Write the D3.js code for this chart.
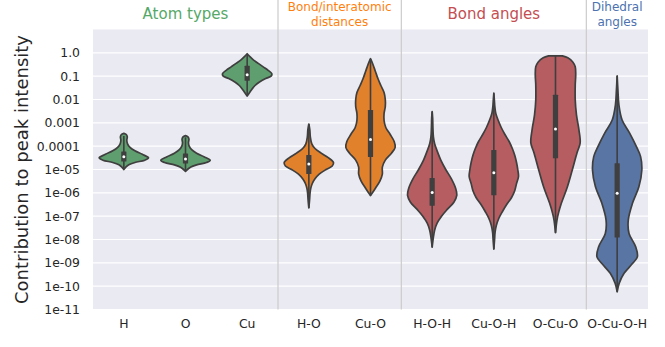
<!DOCTYPE html>
<html>
<head>
<meta charset="utf-8">
<script src="https://cdn.jsdelivr.net/npm/d3@7"></script>
<style>
  html, body { margin: 0; padding: 0; background: #fff; }
  svg text { font-family: "DejaVu Sans", sans-serif; }
</style>
</head>
<body>
<svg id="chart" width="665" height="347"></svg>
<script>
// -------------------------------------------------------------
// Data (values are log10 of contribution)
// -------------------------------------------------------------
const categories = ["H", "O", "Cu", "H-O", "Cu-O", "H-O-H", "Cu-O-H", "O-Cu-O", "O-Cu-O-H"];
const categoryGroup = [0, 0, 0, 1, 1, 2, 2, 2, 3];
const groupTitles = [["Atom types"], ["Bond/interatomic", "distances"], ["Bond angles"], ["Dihedral", "angles"]];

const yTickValues = [1, 1e-1, 1e-2, 1e-3, 1e-4, 1e-5, 1e-6, 1e-7, 1e-8, 1e-9, 1e-10, 1e-11];
const yTickLabels = ["1.0", "0.1", "0.01", "0.001", "0.0001", "1e-05", "1e-06", "1e-07", "1e-08", "1e-09", "1e-10", "1e-11"];

// box stats per category (log10)
const whiskerLow  = [-4.94, -5.02, -1.82, -6.65, -6.12, -8.33, -8.41, -7.71, -10.24];
const q1s         = [-4.66, -4.74, -1.20, -5.19, -4.46, -6.55, -6.10, -4.52, -7.91];
const medians     = [-4.45, -4.55, -0.94, -4.76, -3.71, -5.99, -5.14, -3.26, -6.02];
const q3s         = [-4.23, -4.31, -0.55, -4.38, -2.45, -5.36, -4.16, -1.80, -4.73];
const whiskerHigh = [-3.56, -3.62, -0.08, -3.05, -0.27, -2.52, -1.73, -0.13, -0.99];

// violin outlines: [log10 value, relative density]
const profileH = [[-3.45, 0], [-3.5, 0.1], [-3.6, 0.14], [-3.75, 0.12], [-3.9, 0.15], [-4.05, 0.25],
  [-4.2, 0.45], [-4.35, 0.75], [-4.5, 1.0], [-4.6, 0.85], [-4.7, 0.45], [-4.8, 0.2], [-4.9, 0.08], [-5.0, 0]];
const profileO = [[-3.55, 0], [-3.6, 0.1], [-3.7, 0.14], [-3.85, 0.12], [-4.0, 0.15], [-4.15, 0.25],
  [-4.3, 0.45], [-4.45, 0.75], [-4.6, 1.0], [-4.7, 0.85], [-4.8, 0.45], [-4.9, 0.2], [-5.0, 0.08], [-5.08, 0]];
const profileCu = [[-0.04, 0], [-0.15, 0.1], [-0.3, 0.25], [-0.45, 0.45], [-0.6, 0.65], [-0.75, 0.85],
  [-0.9, 1.0], [-1.0, 0.97], [-1.1, 0.75], [-1.25, 0.5], [-1.4, 0.32], [-1.55, 0.2], [-1.7, 0.1], [-1.85, 0]];
const profileHO = [[-3.05, 0], [-3.3, 0.04], [-3.6, 0.06], [-3.9, 0.12], [-4.1, 0.25], [-4.3, 0.5],
  [-4.5, 0.8], [-4.7, 1.0], [-4.85, 0.95], [-5.0, 0.7], [-5.2, 0.42], [-5.4, 0.25], [-5.6, 0.14],
  [-5.8, 0.08], [-6.0, 0.05], [-6.3, 0.03], [-6.65, 0]];
const profileCuO = [[-0.25, 0], [-0.5, 0.1], [-0.8, 0.2], [-1.1, 0.3], [-1.4, 0.42], [-1.7, 0.55],
  [-2.0, 0.6], [-2.3, 0.6], [-2.6, 0.55], [-2.9, 0.55], [-3.2, 0.62], [-3.5, 0.8], [-3.8, 0.96],
  [-4.05, 1.0], [-4.3, 0.85], [-4.6, 0.6], [-4.9, 0.48], [-5.2, 0.48], [-5.5, 0.38], [-5.8, 0.2], [-6.12, 0]];
const profileHOH = [[-2.52, 0], [-2.8, 0.02], [-3.2, 0.03], [-3.6, 0.05], [-3.9, 0.1], [-4.2, 0.2],
  [-4.6, 0.35], [-5.0, 0.55], [-5.4, 0.78], [-5.8, 0.95], [-6.1, 1.0], [-6.4, 0.88], [-6.7, 0.62],
  [-7.0, 0.38], [-7.3, 0.2], [-7.6, 0.1], [-7.9, 0.05], [-8.33, 0]];
const profileCuOH = [[-1.73, 0], [-2.0, 0.02], [-2.3, 0.04], [-2.6, 0.08], [-2.9, 0.18], [-3.2, 0.3],
  [-3.5, 0.45], [-3.8, 0.62], [-4.1, 0.75], [-4.4, 0.85], [-4.7, 0.92], [-5.0, 0.97], [-5.3, 1.0],
  [-5.6, 0.92], [-5.9, 0.85], [-6.2, 0.72], [-6.5, 0.52], [-6.8, 0.35], [-7.1, 0.2], [-7.4, 0.1],
  [-7.7, 0.05], [-8.0, 0.03], [-8.41, 0]];
const profileOCuO = [[-0.13, 0.28], [-0.21, 0.5], [-0.39, 0.7], [-0.6, 0.8], [-0.94, 0.82], [-1.37, 0.8],
  [-2.02, 0.8], [-2.66, 0.85], [-3.3, 0.95], [-3.86, 1.0], [-4.29, 0.87], [-5.02, 0.68], [-5.75, 0.48],
  [-6.44, 0.24], [-6.87, 0.12], [-7.17, 0.06], [-7.71, 0]];
const profileOCuOH = [[-0.99, 0], [-1.59, 0.03], [-2.23, 0.07], [-2.88, 0.2], [-3.43, 0.5], [-4.02, 0.78],
  [-4.45, 0.95], [-5.02, 1.0], [-5.74, 0.88], [-6.45, 0.62], [-7.17, 0.45], [-7.74, 0.48], [-8.31, 0.75],
  [-8.74, 0.82], [-9.03, 0.62], [-9.45, 0.28], [-9.88, 0.08], [-10.24, 0]];

const profiles = [profileH, profileO, profileCu, profileHO, profileCuO, profileHOH, profileCuOH, profileOCuO, profileOCuOH];

// -------------------------------------------------------------
// Styles
// -------------------------------------------------------------
const groupColors = ["#55a868", "#ff7f0e", "#c44e52", "#4c72b0"];
const textColor = "#262626";
const lineColor = "#3f3f3f";

// seaborn-style desaturation for the violin bodies
function desaturate(c, prop) {
  const h = d3.hsl(c);
  h.s *= prop;
  return h.formatHex();
}

// -------------------------------------------------------------
// Layout
// -------------------------------------------------------------
const svg = d3.select("#chart");
const margin = { top: 29.5, right: 17, bottom: 37.5, left: 93 };
const width = 665, height = 347;
const innerW = width - margin.left - margin.right;
const innerH = height - margin.top - margin.bottom;

const x = d3.scaleBand()
  .domain(categories)
  .range([margin.left, margin.left + innerW])
  .padding(0);

const y = d3.scaleLog()
  .domain([1e-11, 10])
  .range([margin.top + innerH, margin.top]);

const exp = L => Math.pow(10, L);

// background
svg.append("rect")
  .attr("x", margin.left)
  .attr("y", margin.top)
  .attr("width", innerW)
  .attr("height", innerH)
  .attr("fill", "#eaeaf2");

// horizontal grid
svg.append("g")
  .selectAll("line")
  .data(yTickValues)
  .join("line")
  .attr("x1", margin.left)
  .attr("x2", margin.left + innerW)
  .attr("y1", d => y(d))
  .attr("y2", d => y(d))
  .attr("stroke", "#fff")
  .attr("stroke-width", 1.2);

// group separators (between groups, reaching up into the title band)
const sepIdx = [];
for (let i = 1; i < categories.length; i++) {
  if (categoryGroup[i] !== categoryGroup[i - 1]) sepIdx.push(i);
}
svg.append("g")
  .selectAll("line")
  .data(sepIdx)
  .join("line")
  .attr("x1", i => x(categories[i]))
  .attr("x2", i => x(categories[i]))
  .attr("y1", 0)
  .attr("y2", margin.top + innerH)
  .attr("stroke", "#cccccc")
  .attr("stroke-width", 1.2);

// -------------------------------------------------------------
// Violins
// -------------------------------------------------------------
const halfW = x.bandwidth() * 0.8 / 2;

const g = svg.append("g");

categories.forEach((cat, i) => {
  const cx = x(cat) + x.bandwidth() / 2;
  const fill = desaturate(groupColors[categoryGroup[i]], 0.75);

  const area = d3.area()
    .curve(d3.curveCatmullRom.alpha(0.5))
    .y(d => y(exp(d[0])))
    .x0(d => cx - d[1] * halfW)
    .x1(d => cx + d[1] * halfW);

  g.append("path")
    .datum(profiles[i])
    .attr("d", area)
    .attr("fill", fill)
    .attr("stroke", lineColor)
    .attr("stroke-width", 1.7)
    .attr("stroke-linejoin", "round");

  // whisker
  g.append("line")
    .attr("x1", cx).attr("x2", cx)
    .attr("y1", y(exp(whiskerHigh[i])))
    .attr("y2", y(exp(whiskerLow[i])))
    .attr("stroke", lineColor)
    .attr("stroke-width", 1.6);

  // box
  g.append("rect")
    .attr("x", cx - 2.6)
    .attr("width", 5.2)
    .attr("y", y(exp(q3s[i])))
    .attr("height", y(exp(q1s[i])) - y(exp(q3s[i])))
    .attr("rx", 0.5)
    .attr("fill", lineColor);

  // median
  g.append("circle")
    .attr("cx", cx)
    .attr("cy", y(exp(medians[i])))
    .attr("r", 1.5)
    .attr("fill", "#fff");
});

// -------------------------------------------------------------
// Axes
// -------------------------------------------------------------
const yAxis = svg.append("g")
  .attr("transform", `translate(${margin.left - 13},0)`)
  .call(d3.axisLeft(y).tickValues(yTickValues).tickFormat((d, i) => yTickLabels[i]).tickSize(0).tickPadding(0));
yAxis.select(".domain").remove();
yAxis.selectAll("text")
  .attr("fill", textColor)
  .style("font-size", "12.4px")
  .style("font-family", "DejaVu Sans");

const xAxis = svg.append("g")
  .attr("transform", `translate(0,${margin.top + innerH})`)
  .call(d3.axisBottom(x).tickSize(0).tickPadding(10));
xAxis.select(".domain").remove();
xAxis.selectAll("text")
  .attr("fill", textColor)
  .style("font-size", "12.4px")
  .style("font-family", "DejaVu Sans");

// y label
svg.append("text")
  .attr("transform", `translate(28,${169.5}) rotate(-90)`)
  .attr("text-anchor", "middle")
  .attr("fill", textColor)
  .style("font-size", "18px")
  .text("Contribution to peak intensity");

// -------------------------------------------------------------
// Group titles
// -------------------------------------------------------------
groupTitles.forEach((lines, gi) => {
  const members = categories.filter((c, i) => categoryGroup[i] === gi);
  const x0 = x(members[0]);
  const x1 = x(members[members.length - 1]) + x.bandwidth();
  const cx = (x0 + x1) / 2;
  const single = lines.length === 1;

  const t = svg.append("text")
    .attr("text-anchor", "middle")
    .attr("fill", groupColors[gi])
    .style("font-size", single ? "15px" : "12px");

  lines.forEach((line, li) => {
    t.append("tspan")
      .attr("x", cx)
      .attr("y", single ? 18.5 : 10.5 + li * 15.3)
      .text(line);
  });
});
</script>
</body>
</html>
